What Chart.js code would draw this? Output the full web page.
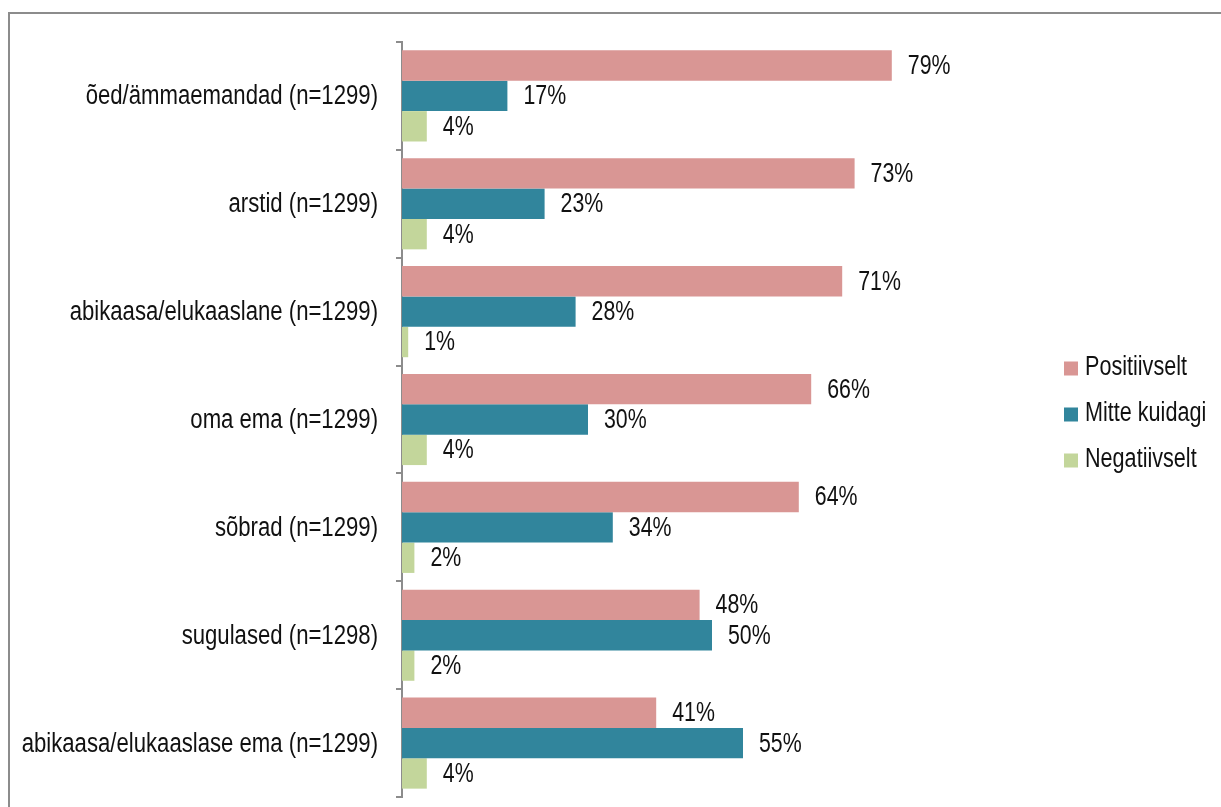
<!DOCTYPE html>
<html>
<head>
<meta charset="utf-8">
<script src="https://cdn.jsdelivr.net/npm/chart.js@4.4.1/dist/chart.umd.min.js"></script>
<style>
  body { margin: 0; background: #fff; }
  #wrap { position: relative; width: 1221px; height: 807px; overflow: hidden; }
  #frame { position: absolute; left: 8px; top: 12px; width: 1300px; height: 900px;
           border-left: 2px solid #8c8c8c; border-top: 2px solid #8c8c8c; }
  #chart { position: absolute; left: 0; top: 0; }
</style>
</head>
<body>
<div id="wrap">
  <div id="frame"></div>
  <canvas id="chart" width="1221" height="807"></canvas>
</div>
<script>
// categories and values
const categories = [
    "õed/ämmaemandad (n=1299)",
    "arstid (n=1299)",
    "abikaasa/elukaaslane (n=1299)",
    "oma ema (n=1299)",
    "sõbrad (n=1299)",
    "sugulased (n=1298)",
    "abikaasa/elukaaslase ema (n=1299)"
];
const seriesNames = ["Positiivselt", "Mitte kuidagi", "Negatiivselt"];
const positive = [79, 73, 71, 66, 64, 48, 41];
const neutral = [17, 23, 28, 30, 34, 50, 55];
const negative = [4, 4, 1, 4, 2, 2, 4];

const colors = ['#D99694', '#31859C', '#C3D69B'];
const fontFamily = "'Liberation Sans', Arial, sans-serif";
const textFont = '27px ' + fontFamily;

// the original text is a narrow Arial, so squeeze it horizontally
function narrowText(ctx, text, x, y, align, sx) {
    ctx.save();
    ctx.translate(x, y);
    ctx.scale(sx, 1);
    ctx.textAlign = align;
    ctx.textBaseline = 'middle';
    ctx.fillText(text, 0, 0);
    ctx.restore();
}

// category labels, value labels and legend
const textPlugin = {
    id: 'textPlugin',
    afterDraw(chart) {
        const ctx = chart.ctx;
        const area = chart.chartArea;
        const yScale = chart.scales.y;
        ctx.save();
        ctx.font = textFont;
        ctx.fillStyle = '#111';

        chart.data.labels.forEach((lab, i) => {
            narrowText(ctx, lab, yScale.right - 24, yScale.getPixelForTick(i) + 1, 'right', 0.82);
        });

        chart.data.datasets.forEach((ds, i) => {
            chart.getDatasetMeta(i).data.forEach((bar, j) => {
                narrowText(ctx, ds.data[j] + '%', bar.x + 16, bar.y + 1, 'left', 0.79);
            });
        });

        const x = area.right + 42;
        const y0 = (area.top + area.bottom) / 2 - 51;
        chart.data.datasets.forEach((ds, i) => {
            const y = y0 + i * 46;
            ctx.fillStyle = ds.backgroundColor;
            ctx.fillRect(x, y - 7, 14, 14);
            ctx.fillStyle = '#111';
            narrowText(ctx, ds.label, x + 21, y - 1, 'left', 0.8);
        });
        ctx.restore();
    }
};

const data = {
    labels: categories,
    datasets: [
        { label: seriesNames[0], data: positive, backgroundColor: colors[0] },
        { label: seriesNames[1], data: neutral, backgroundColor: colors[1] },
        { label: seriesNames[2], data: negative, backgroundColor: colors[2] }
    ]
};

const config = {
    type: 'bar',
    data: data,
    options: {
        indexAxis: 'y',
        responsive: false,
        animation: false,
        categoryPercentage: 0.845,
        barPercentage: 1,
        layout: {
            padding: { top: 42, bottom: 10, left: 0, right: 199 }
        },
        scales: {
            x: {
                display: false,
                min: 0,
                max: 100
            },
            y: {
                afterFit(scale) { scale.width = 402; },
                border: { display: true, color: '#8c8c8c', width: 2 },
                grid: {
                    offset: true,
                    drawOnChartArea: false,
                    tickLength: 6,
                    color: '#8c8c8c',
                    lineWidth: 2
                },
                ticks: { display: false }
            }
        },
        plugins: {
            legend: { display: false },
            tooltip: { enabled: false }
        }
    },
    plugins: [textPlugin]
};

const chart = new Chart(document.getElementById('chart'), config);
</script>
</body>
</html>
